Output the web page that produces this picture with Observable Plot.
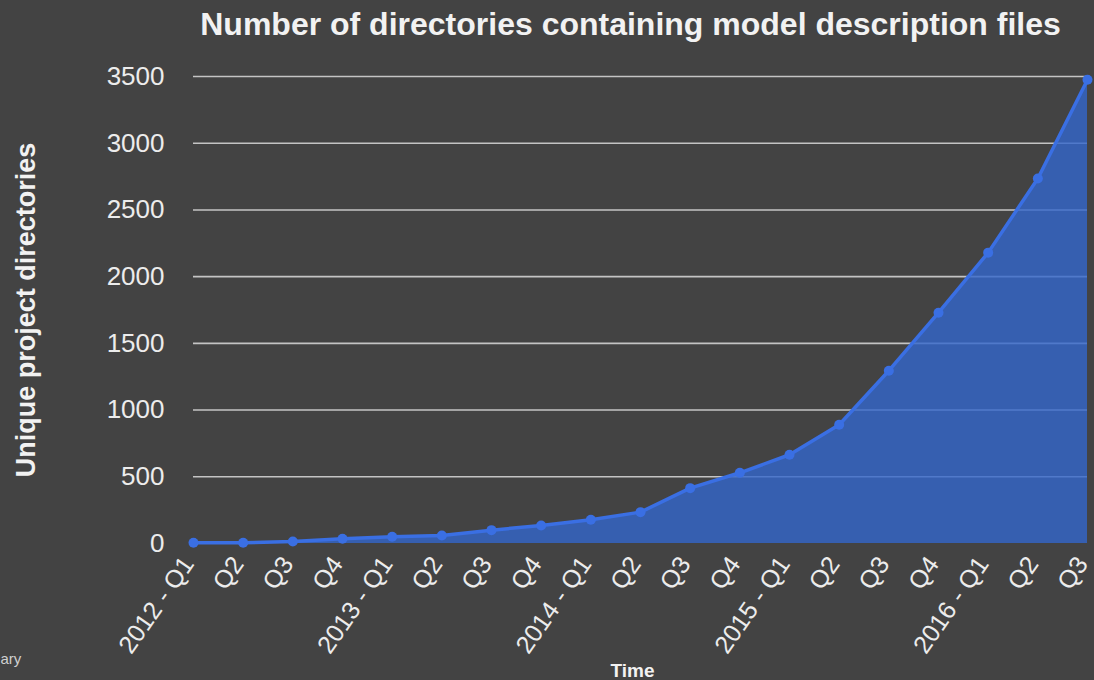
<!DOCTYPE html>
<html>
<head>
<meta charset="utf-8">
<script src="https://cdn.jsdelivr.net/npm/d3@7"></script>
<script src="https://cdn.jsdelivr.net/npm/@observablehq/plot@0.6"></script>
<style>
  html, body { margin: 0; padding: 0; background: #434343; }
  #chart svg { display: block; }
</style>
</head>
<body>
<div id="chart"></div>
<script>
// Data
const periods = ["2012 Q1","2012 Q2","2012 Q3","2012 Q4",
                 "2013 Q1","2013 Q2","2013 Q3","2013 Q4",
                 "2014 Q1","2014 Q2","2014 Q3","2014 Q4",
                 "2015 Q1","2015 Q2","2015 Q3","2015 Q4",
                 "2016 Q1","2016 Q2","2016 Q3"];
const tickLabels = ["2012 - Q1","Q2","Q3","Q4",
                    "2013 - Q1","Q2","Q3","Q4",
                    "2014 - Q1","Q2","Q3","Q4",
                    "2015 - Q1","Q2","Q3","Q4",
                    "2016 - Q1","Q2","Q3"];
const directories = [5, 5, 15, 35, 50, 60, 100, 135, 178, 235, 415, 530, 665, 890,
                     1295, 1730, 2180, 2735, 3475];
const yTicks = [0, 500, 1000, 1500, 2000, 2500, 3000, 3500];
const title = "Number of directories containing model description files";
const yLabel = "Unique project directories";
const xLabel = "Time";
const cornerNote = "ary";

const data = periods.map((p, i) => ({period: p, value: directories[i]}));
const labelOf = new Map(periods.map((p, i) => [p, tickLabels[i]]));

const textColor = "#ececec";
const fontFamily = "'Liberation Sans', Arial, Helvetica, sans-serif";

const xAxisOptions = {
  tickFormat: d => labelOf.get(d),
  tickSize: 0,
  tickPadding: 16,
  tickRotate: -55,
  label: null
};
const hasAxisMark = typeof Plot.axisX === "function";

const marks = [
  Plot.ruleY(yTicks.filter(d => d > 0), {stroke: "#c4c4c4", strokeWidth: 1.6}),
  Plot.areaY(data, {x: "period", y: "value", fill: "#3366cc", fillOpacity: 0.8}),
  Plot.lineY(data, {x: "period", y: "value", stroke: "#3a6fe3", strokeWidth: 3.5}),
  Plot.dot(data, {x: "period", y: "value", r: 5, fill: "#3a6fe3"}),
  Plot.text([title], {text: d => d, frameAnchor: "top", dx: -10, dy: -42, lineAnchor: "bottom",
    textAnchor: "middle", fontSize: 32, fontWeight: "bold", fill: "#f2f2f2"}),
  Plot.text([yLabel], {text: d => d, frameAnchor: "left", dx: -167, dy: 0, rotate: -90,
    textAnchor: "middle", lineAnchor: "middle", fontSize: 27, fontWeight: "bold", fill: "#f2f2f2"}),
  Plot.text([xLabel], {text: d => d, frameAnchor: "bottom", dx: -8, dy: 133, lineAnchor: "bottom",
    textAnchor: "middle", fontSize: 19, fontWeight: "bold", fill: "#f2f2f2"}),
  Plot.text([cornerNote], {text: d => d, frameAnchor: "bottom-left", dx: -193, dy: 120,
    textAnchor: "start", fontSize: 15, fill: "#cfcfcf"})
];
if (hasAxisMark) {
  marks.push(Plot.axisX({...xAxisOptions, dx: -5, fontSize: 25}));
}

const chart = Plot.plot({
  width: 1094,
  height: 680,
  marginLeft: 193,
  marginRight: 7,
  marginTop: 76,
  marginBottom: 137,
  style: {background: "#434343", color: textColor, fontFamily, fontSize: "26px"},
  x: hasAxisMark
    ? {type: "point", domain: periods, padding: 0, round: false}
    : {type: "point", domain: periods, padding: 0, round: false, ...xAxisOptions},
  y: {
    domain: [0, 3500],
    ticks: yTicks,
    tickFormat: d => String(d),
    tickSize: 0,
    tickPadding: 29,
    label: null
  },
  marks
});
document.getElementById("chart").appendChild(chart);
</script>
</body>
</html>
